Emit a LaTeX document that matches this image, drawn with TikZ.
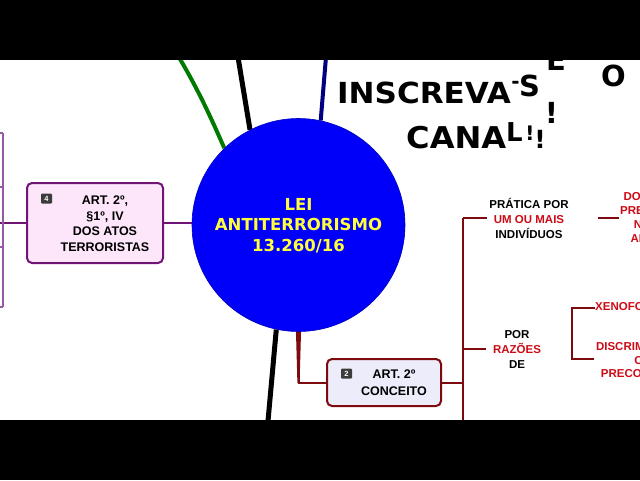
\documentclass[tikz,border=0pt]{standalone}
\usepackage{fontspec}
\setmainfont{Liberation Sans}
\newfontfamily\dejavu{DejaVu Sans}
\usetikzlibrary{backgrounds,calc}
\definecolor{mpurple}{RGB}{112,20,118}
\definecolor{lpurple}{RGB}{150,90,165}
\definecolor{pinkfill}{RGB}{253,230,250}
\definecolor{lavfill}{RGB}{236,236,250}
\definecolor{dred}{RGB}{125,10,15}
\definecolor{tred}{RGB}{205,12,22}
\definecolor{navyc}{RGB}{0,0,128}
\definecolor{greenc}{RGB}{0,122,0}
\definecolor{centerblue}{RGB}{0,0,250}
\definecolor{ltyellow}{RGB}{255,255,60}
\definecolor{icongray}{RGB}{60,60,60}
\begin{document}
\begin{tikzpicture}[x=1pt,y=-1pt,
  boxfour/.style={draw=mpurple, fill=pinkfill, line width=2pt, rounded corners=5pt,
    minimum width=136pt, minimum height=80pt, inner sep=0pt},
  boxtwo/.style={draw=dred, fill=lavfill, line width=2pt, rounded corners=5pt,
    minimum width=114pt, minimum height=47pt, inner sep=0pt},
  boxtext/.style={align=center, inner sep=0pt, font=\fontsize{12.5}{15.5}\selectfont\bfseries},
  iconbox/.style={fill=icongray, text=white, rounded corners=1pt, minimum width=11pt,
    minimum height=10pt, inner sep=0pt, font=\fontsize{7.5}{7.5}\selectfont\bfseries},
  leaftext/.style={align=center, inner sep=2pt, font=\fontsize{11.5}{15}\selectfont\bfseries},
  redleaf/.style={leaftext, text=tred, font=\fontsize{11.5}{14}\selectfont\bfseries},
  redline/.style={draw=dred, line width=2pt},
  bigletter/.style={inner sep=0pt, font=\dejavu\bfseries\fontsize{29}{29}\selectfont},
]
\clip (0,0) rectangle (640,480);
\begin{scope}[on background layer]
  \fill[white] (0,0) rectangle (640,480);
\end{scope}

% central circle
\node[circle, fill=centerblue, draw=blue!75!black, line width=0.6pt, minimum size=213pt, inner sep=0pt] (lei) at (298.5,225) {};
\node[align=center, text=ltyellow, inner sep=0pt, font=\dejavu\bfseries\fontsize{16.5}{20.5}\selectfont] (leitext) at (298.5,225.5) {LEI\\ANTITERRORISMO\\13.260/16};

% branches to top / bottom (off-picture ends)
\coordinate (gtop) at (172,46);
\coordinate (btop) at (236,45);
\coordinate (ntop) at (327,45);
\coordinate (bbot) at (267,432);
\begin{scope}[on background layer]
  \draw[greenc, line width=4pt] (lei.134) .. controls (212,120) and (196,84) .. (gtop);
  \draw[black, line width=5pt] (lei.117) -- (btop);
  \draw[navyc, line width=4pt] (lei.78) -- (ntop);
  \draw[black, line width=5pt] (lei.258) -- (bbot);
\end{scope}

% box 4 (left)
\node[boxfour] (b4) at (95,223) {};
\node[iconbox] (i4) at (46.5,198.5) {4};
\node[boxtext] (t4) at (105,223.5) {ART. 2º,\\§1º, IV\\DOS ATOS\\TERRORISTAS};
\begin{scope}[on background layer]
  \draw[mpurple, line width=2.5pt] (lei.west |- b4.east) -- (b4.east);
\end{scope}
\coordinate (lv) at (3,223);
\coordinate (lvt) at (3,133);
\coordinate (lvb) at (3,307);
\coordinate (lv1) at (3,187);
\coordinate (lv2) at (3,247);
\draw[mpurple, line width=2pt] (b4.west) -- (lv) -- ++(-5,0);
\draw[lpurple, line width=1.5pt] (lvt) -- (lvb);
\draw[lpurple, line width=1.5pt] (lvt) -- ++(-5,0) (lv1) -- ++(-5,0) (lv2) -- ++(-5,0) (lvb) -- ++(-5,0);

% box 2 (bottom)
\node[boxtwo] (b2) at (384,382.5) {};
\node[iconbox] (i2) at (346.5,373.5) {2};
\node[boxtext, font=\fontsize{12.5}{17}\selectfont\bfseries] (t2) at (394,382.5) {ART. 2º\\CONCEITO};
\begin{scope}[on background layer]
  \fill[dred] ($(lei.south)+(-2.6,-3)$) -- ($(lei.south)+(2.6,-3)$) -- ($(lei.south)+(1.1,51)$) -- ($(lei.south)+(-1.1,51)$) -- cycle;
  \draw[dred, line width=2pt] (lei.south) |- (b2.west);
\end{scope}

% right tree
\coordinate (vt) at (463,218);
\coordinate (vb) at (463,428);
\node[leaftext, anchor=center] (pratica) at (529,218) {PRÁTICA POR\\\textcolor{tred}{UM OU MAIS}\\INDIVÍDUOS};
\node[leaftext, anchor=center] (razoes) at (517,349) {POR\\\textcolor{tred}{RAZÕES}\\DE};
\node[redleaf, anchor=center, inner sep=1pt] (dos) at (653,218) {DOS ATOS\\PREVISTOS\\NESTE\\ARTIGO};
\node[redleaf, anchor=west, inner sep=0pt] (xeno) at (595,307) {XENOFOBIA};
\node[redleaf, anchor=center, font=\fontsize{11.5}{13.5}\selectfont\bfseries] (disc) at (643,359) {DISCRIMINAÇÃO\\OU\\PRECONCEITO};
\coordinate (bk) at (572,308);
\draw[redline] (b2.east) -- (b2.east -| vt);
\draw[redline] (vt) -- (vb);
\draw[redline] (vt) -- (vt -| pratica.west);
\draw[redline] (vt |- razoes.west) -- ++(23,0);
\draw[redline] ([xshift=27pt]pratica.east) -- (dos.west);
\draw[redline] (xeno.west |- bk) -- (bk) -- (bk |- disc.west) -- ++(22,0);

% "INSCREVA-SE NO CANAL!!!" animated letters
\node[bigletter, anchor=base west] (w1) at (337,103) {\scalebox{1.07}[1]{INSCREVA}};
\node[bigletter, font=\dejavu\bfseries\fontsize{20}{20}\selectfont, anchor=center] (w2) at (515.5,85) {-};
\node[bigletter, anchor=base west] (w3) at (519,96) {S};
\node[bigletter, anchor=base west] (w4) at (546,70) {E};
\node[bigletter, anchor=base west] (w5) at (601,86) {O};
\node[bigletter, anchor=base] (w6) at (551.5,123) {!};
\node[bigletter, font=\dejavu\bfseries\fontsize{30}{30}\selectfont, anchor=base west] (w7) at (406,148) {\scalebox{1.07}[1]{CANA}};
\node[bigletter, font=\dejavu\bfseries\fontsize{26}{26}\selectfont, anchor=base west] (w8) at (506,141) {L};
\node[bigletter, font=\dejavu\bfseries\fontsize{20}{20}\selectfont, anchor=base] (w9) at (530,140) {!};
\node[bigletter, font=\dejavu\bfseries\fontsize{25}{25}\selectfont, anchor=base] (w10) at (540,148) {!};

% letterbox bars
\fill[black] (0,0) rectangle (640,60);
\fill[black] (0,420) rectangle (640,480);
\end{tikzpicture}
\end{document}
